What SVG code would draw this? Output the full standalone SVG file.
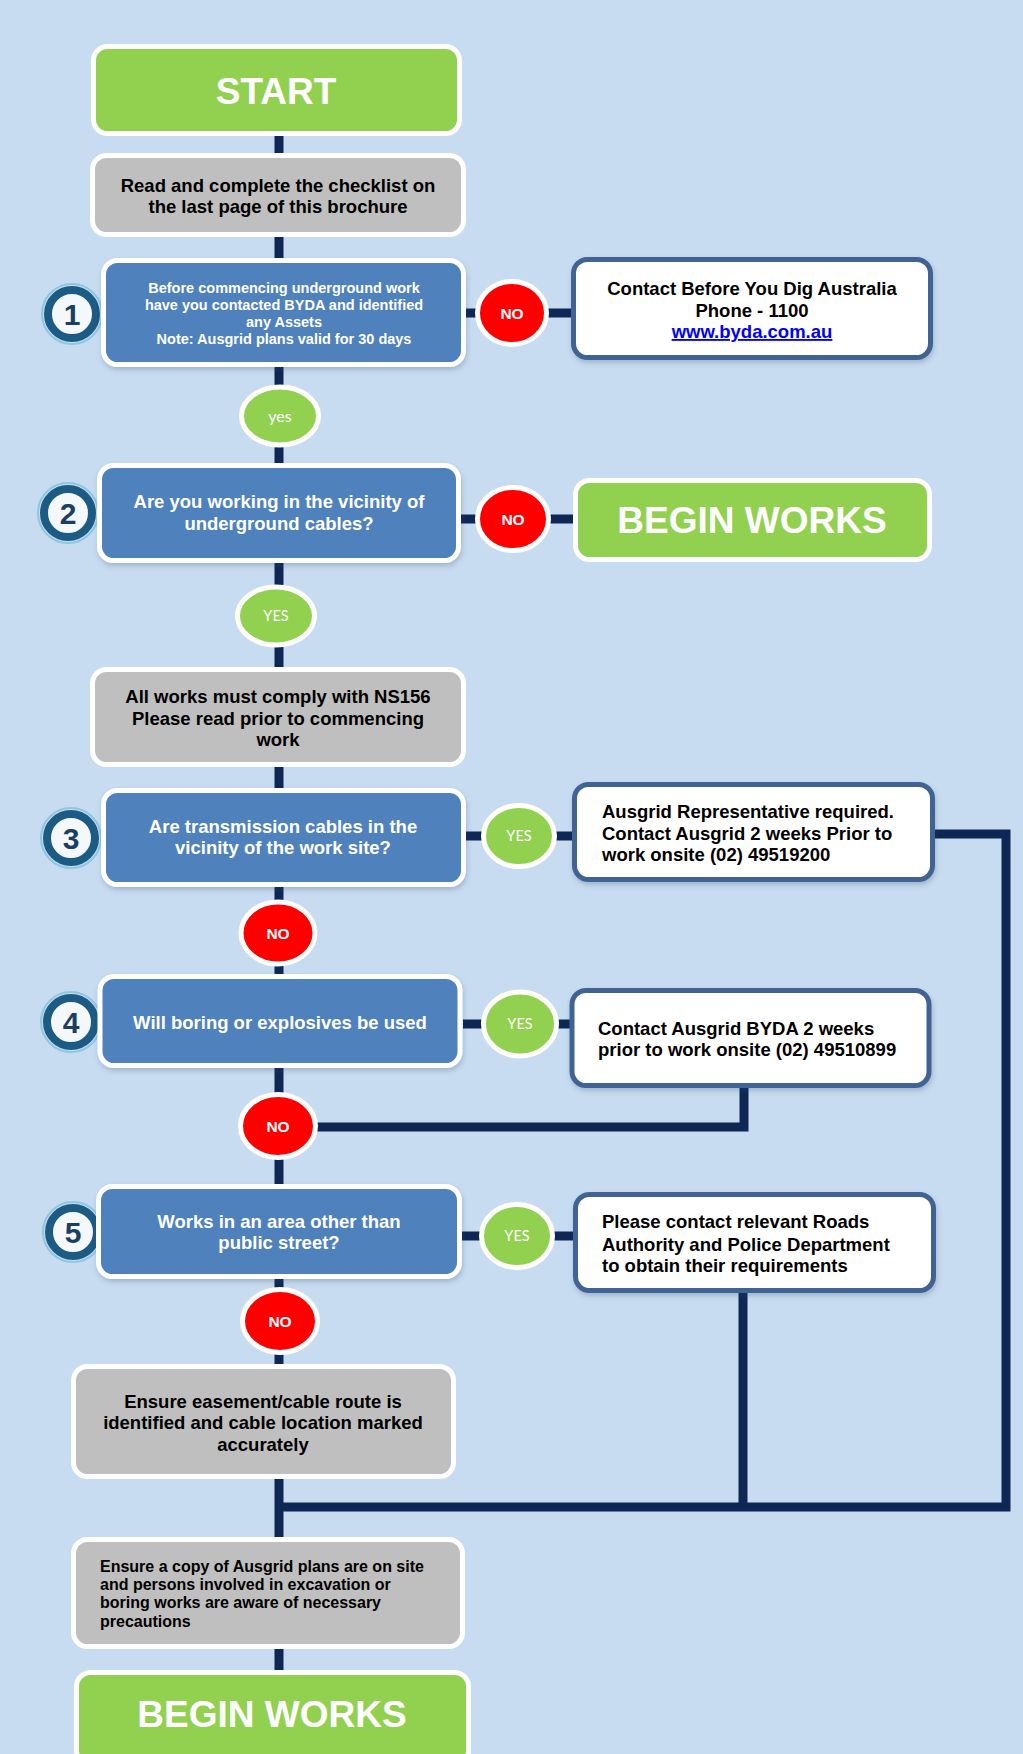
<svg xmlns="http://www.w3.org/2000/svg" width="1023" height="1754" viewBox="0 0 1023 1754">
<style>
text{font-family:"Liberation Sans",Arial,sans-serif;font-weight:bold}
.c{text-anchor:middle}
.w{fill:#ffffff}
.k{fill:#000000}
.green{fill:#92d050;stroke:#ffffff;stroke-width:5}
.gray{fill:#bfbfbf;stroke:#ffffff;stroke-width:5}
.blue{fill:#4f81bd;stroke:#ffffff;stroke-width:5}
.contact{fill:#ffffff;stroke:#3f6494;stroke-width:5}
.no{fill:#ff0000;stroke:#ffffff;stroke-width:5}
.yes{fill:#92d050;stroke:#ffffff;stroke-width:5}
.lbl{font-family:Lato,"Open Sans",sans-serif;font-weight:normal;fill:#ffffff;text-anchor:middle}
.num circle.ring{fill:#f4f8fb;stroke:#1c5b84;stroke-width:8}
.num circle.halo{fill:none;stroke:#8fc6e0;stroke-width:2}
.num text{font-size:30px;fill:#1b3f60;text-anchor:middle}
.big{font-size:37px}
.t18{font-size:18.5px}
.t14{font-size:14.5px}
.t16{font-size:16px}
.nol{font-size:15.5px}
#connectors path{fill:none;stroke:#0e2754;stroke-width:9}
</style>
<defs>
<filter id="sh" x="-10%" y="-10%" width="120%" height="130%">
<feDropShadow dx="1" dy="3" stdDeviation="2.5" flood-color="#2a4a70" flood-opacity="0.25"/>
</filter>
</defs>
<rect x="0" y="0" width="1023" height="1754" fill="#c7dcf0"/>

<g id="connectors">
<path d="M279,136 V1672"/>
<path d="M466,313 H571"/>
<path d="M461,519 H573"/>
<path d="M466,836 H572"/>
<path d="M935,834 H1006 V1507 H279"/>
<path d="M463,1024 H570"/>
<path d="M744,1088 V1127 H279"/>
<path d="M462,1236 H573"/>
<path d="M743,1293 V1507"/>
</g>

<g id="start">
<rect class="green" x="93.5" y="46.5" width="366" height="87" rx="14"/>
<text class="c w big" x="276" y="104">START</text>
</g>

<g id="checklist">
<rect class="gray" x="92.5" y="155.5" width="371" height="79" rx="14"/>
<text class="c k t18" x="278" y="192">Read and complete the checklist on</text>
<text class="c k t18" x="278" y="213">the last page of this brochure</text>
</g>

<g id="step1">
<g class="num"><circle class="halo" cx="72" cy="314" r="30"/><circle class="ring" cx="72" cy="314" r="24"/><text x="72" y="325">1</text></g>
<rect class="blue" x="103.5" y="260.5" width="360" height="104" rx="14" filter="url(#sh)"/>
<text class="c w t14" x="284" y="293">Before commencing underground work</text>
<text class="c w t14" x="284" y="310">have you contacted BYDA and identified</text>
<text class="c w t14" x="284" y="327">any Assets</text>
<text class="c w t14" x="284" y="344">Note: Ausgrid plans valid for 30 days</text>
</g>

<g id="no1">
<ellipse class="no" cx="512" cy="313" rx="34.5" ry="31.5"/>
<text class="c w nol" x="512" y="319">NO</text>
</g>

<g id="contact-byda">
<rect class="contact" x="573.5" y="259.5" width="357" height="98" rx="14" filter="url(#sh)"/>
<text class="c k t18" x="752" y="295">Contact Before You Dig Australia</text>
<text class="c k t18" x="752" y="317">Phone - 1100</text>
<text class="c t18" x="752" y="338" fill="#0000ff" text-decoration="underline">www.byda.com.au</text>
</g>

<g id="yes1">
<ellipse class="yes" cx="280" cy="416" rx="38.5" ry="29"/>
<text class="lbl" x="280" y="422" font-size="16px">yes</text>
</g>

<g id="step2">
<g class="num"><circle class="halo" cx="68" cy="513" r="30"/><circle class="ring" cx="68" cy="513" r="24"/><text x="68" y="524">2</text></g>
<rect class="blue" x="99.5" y="465.5" width="359" height="95" rx="14" filter="url(#sh)"/>
<text class="c w t18" x="279" y="508">Are you working in the vicinity of</text>
<text class="c w t18" x="279" y="530">underground cables?</text>
</g>

<g id="no2">
<ellipse class="no" cx="513" cy="519" rx="35.5" ry="31.5"/>
<text class="c w nol" x="513" y="525">NO</text>
</g>

<g id="begin-works-top">
<rect class="green" x="575.5" y="480.5" width="354" height="79" rx="14"/>
<text class="c w big" x="752" y="533">BEGIN WORKS</text>
</g>

<g id="yes2">
<ellipse class="yes" cx="276" cy="616" rx="38.5" ry="29"/>
<text class="lbl" x="276" y="621" font-size="14.5px">YES</text>
</g>

<g id="ns156">
<rect class="gray" x="92.5" y="669.5" width="371" height="95" rx="14"/>
<text class="c k t18" x="278" y="703">All works must comply with NS156</text>
<text class="c k t18" x="278" y="725">Please read prior to commencing</text>
<text class="c k t18" x="278" y="746">work</text>
</g>

<g id="step3">
<g class="num"><circle class="halo" cx="71" cy="838" r="30"/><circle class="ring" cx="71" cy="838" r="24"/><text x="71" y="849">3</text></g>
<rect class="blue" x="103.5" y="790.5" width="360" height="94" rx="14" filter="url(#sh)"/>
<text class="c w t18" x="283" y="833">Are transmission cables in the</text>
<text class="c w t18" x="283" y="854">vicinity of the work site?</text>
</g>

<g id="yes3">
<ellipse class="yes" cx="519" cy="836" rx="35.5" ry="30.5"/>
<text class="lbl" x="519" y="841" font-size="14.5px">YES</text>
</g>

<g id="contact-rep">
<rect class="contact" x="574.5" y="784.5" width="358" height="95" rx="14" filter="url(#sh)"/>
<text class="k t18" x="602" y="818">Ausgrid Representative required.</text>
<text class="k t18" x="602" y="840">Contact Ausgrid 2 weeks Prior to</text>
<text class="k t18" x="602" y="861">work onsite (02) 49519200</text>
</g>

<g id="no3">
<ellipse class="no" cx="278" cy="933" rx="37" ry="31"/>
<text class="c w nol" x="278" y="939">NO</text>
</g>

<g id="step4">
<g class="num"><circle class="halo" cx="71" cy="1022" r="30"/><circle class="ring" cx="71" cy="1022" r="24"/><text x="71" y="1033">4</text></g>
<rect class="blue" x="100" y="976.5" width="360" height="89" rx="14" filter="url(#sh)"/>
<text class="c w t18" x="280" y="1029">Will boring or explosives be used</text>
</g>

<g id="yes4">
<ellipse class="yes" cx="520" cy="1024" rx="36.5" ry="32"/>
<text class="lbl" x="520" y="1029" font-size="14.5px">YES</text>
</g>

<g id="contact-bydaus">
<rect class="contact" x="572" y="990.5" width="357" height="95" rx="14" filter="url(#sh)"/>
<text class="k t18" x="598" y="1035">Contact Ausgrid BYDA 2 weeks</text>
<text class="k t18" x="598" y="1056">prior to work onsite (02) 49510899</text>
</g>

<g id="no4">
<ellipse class="no" cx="278" cy="1126" rx="37.5" ry="31.5"/>
<text class="c w nol" x="278" y="1132">NO</text>
</g>

<g id="step5">
<g class="num"><circle class="halo" cx="73" cy="1232" r="30"/><circle class="ring" cx="73" cy="1232" r="24"/><text x="73" y="1243">5</text></g>
<rect class="blue" x="98.5" y="1186.5" width="361" height="90" rx="14" filter="url(#sh)"/>
<text class="c w t18" x="279" y="1228">Works in an area other than</text>
<text class="c w t18" x="279" y="1249">public street?</text>
</g>

<g id="yes5">
<ellipse class="yes" cx="517" cy="1236" rx="35.5" ry="31.5"/>
<text class="lbl" x="517" y="1241" font-size="14.5px">YES</text>
</g>

<g id="contact-roads">
<rect class="contact" x="575.5" y="1194.5" width="358" height="96" rx="14" filter="url(#sh)"/>
<text class="k t18" x="602" y="1228">Please contact relevant Roads</text>
<text class="k t18" x="602" y="1251">Authority and Police Department</text>
<text class="k t18" x="602" y="1272">to obtain their requirements</text>
</g>

<g id="no5">
<ellipse class="no" cx="280" cy="1321" rx="37.5" ry="31.5"/>
<text class="c w nol" x="280" y="1327">NO</text>
</g>

<g id="easement">
<rect class="gray" x="73.5" y="1366.5" width="380" height="110" rx="14"/>
<text class="c k t18" x="263" y="1408">Ensure easement/cable route is</text>
<text class="c k t18" x="263" y="1429">identified and cable location marked</text>
<text class="c k t18" x="263" y="1451">accurately</text>
</g>

<g id="copy-plans">
<rect class="gray" x="73.5" y="1539.5" width="389" height="107" rx="14"/>
<text class="k t16" x="100" y="1572">Ensure a copy of Ausgrid plans are on site</text>
<text class="k t16" x="100" y="1590">and persons involved in excavation or</text>
<text class="k t16" x="100" y="1608">boring works are aware of necessary</text>
<text class="k t16" x="100" y="1627">precautions</text>
</g>

<g id="begin-works-bottom">
<rect class="green" x="76.5" y="1672.5" width="392" height="92" rx="14"/>
<text class="c w big" x="272" y="1727">BEGIN WORKS</text>
</g>
</svg>
